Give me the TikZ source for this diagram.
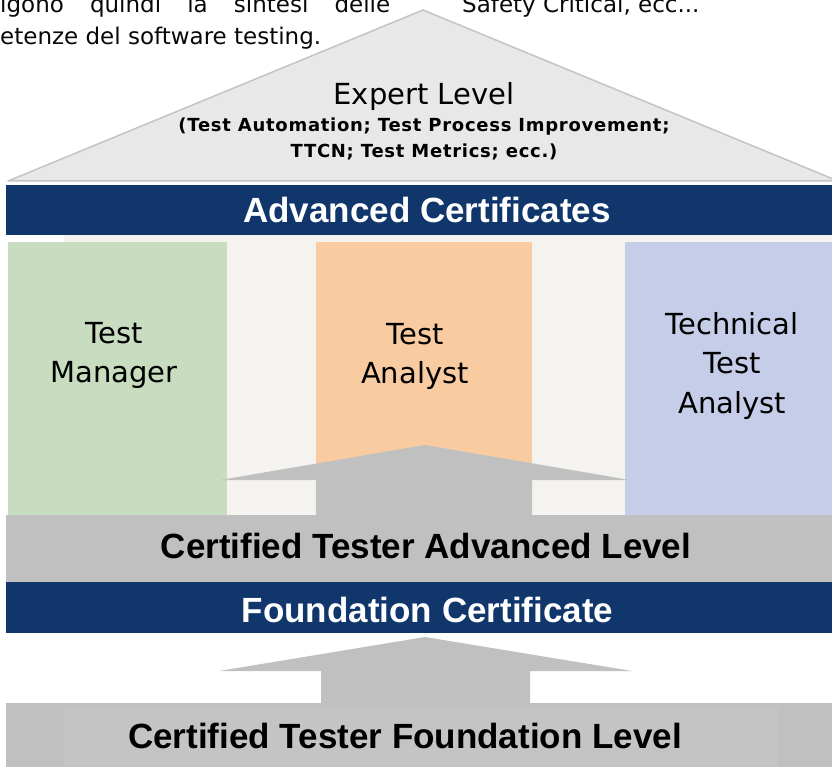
\documentclass[tikz,border=0pt]{standalone}
\usepackage{fontspec}
\setmainfont{DejaVu Sans}
\newfontfamily\bandfont{Liberation Sans}
\newfontfamily\subfont[LetterSpace=4]{DejaVu Sans}
\usetikzlibrary{positioning}

\definecolor{navy}{RGB}{16,54,108}
\definecolor{roofgray}{RGB}{232,232,232}
\definecolor{roofline}{RGB}{196,196,196}
\definecolor{beige}{RGB}{244,243,239}
\definecolor{mgrgreen}{RGB}{200,220,191}
\definecolor{taorange}{RGB}{248,204,160}
\definecolor{ttablue}{RGB}{198,205,233}
\definecolor{levelgray}{RGB}{192,192,192}
\definecolor{innergray}{RGB}{196,196,196}
\definecolor{pageink}{RGB}{8,8,8}

\tikzset{
  band/.style={rectangle, inner sep=0pt, minimum width=840pt},
  column/.style={rectangle, inner sep=0pt, minimum height=273pt},
  bandlabel/.style={anchor=base, inner sep=0pt, font=\bandfont\bfseries\fontsize{35}{35}\selectfont},
  collabel/.style={anchor=north, inner sep=0pt, align=center, font=\fontsize{29}{39.5}\selectfont},
  pagetext/.style={anchor=base west, inner sep=0pt, text=pageink, font=\fontsize{23}{27}\selectfont},
  uparrow/.style={fill=levelgray}
}

\begin{document}
\begin{tikzpicture}[x=1pt, y=-1pt]
\useasboundingbox (0,0) rectangle (832,767);
\clip (0,0) rectangle (832,767);

% page text cut off above the picture
\node [pagetext] (textA) at (0,13) {\makebox[390pt][s]{igono quindi la sintesi delle}};
\node [pagetext] (textB) at (0,45) {etenze del software testing.};
\node [pagetext] (textC) at (462,13) {Safety Critical, ecc...};

% roof
\filldraw [fill=roofgray, draw=roofline, line width=1.5pt, line join=round] (8,181) -- (423,10) -- (838,181) -- cycle;
\node [anchor=base, inner sep=0pt, font=\fontsize{29}{29}\selectfont] (expert) at (424,105) {Expert Level};
\node [anchor=north, inner sep=0pt, align=center, font=\subfont\bfseries\fontsize{18}{26}\selectfont] (expertsub) at (424,118) {(Test Automation; Test Process Improvement;\\TTCN; Test Metrics; ecc.)};

% advanced certificates
\node [band, fill=navy, minimum height=50pt] (advcert) at (426,210) {};
\node [bandlabel, text=white] (advcerttext) at (427,223) {Advanced Certificates};
\node [rectangle, inner sep=0pt, fill=beige, minimum width=782pt, minimum height=280pt] (modules) at (455,375) {};
\node [column, fill=mgrgreen, minimum width=219pt] (manager) at (117.5,378.5) {};
\node [column, fill=taorange, minimum width=216pt] (analyst) at (424,378.5) {};
\node [column, fill=ttablue, minimum width=221pt] (techanalyst) at (735.5,378.5) {};
\node [collabel] (managertext) at (114,322) {Test\\Manager};
\node [collabel] (analysttext) at (415,323) {Test\\Analyst};
\node [collabel] (techanalysttext) at (732,312) {Technical\\Test\\Analyst};

% arrow into the advanced modules
\coordinate (tipA) at (425,445);
\fill [uparrow] (analyst.south west) -- (316,480) -- (220,480) -- (tipA) -- (630,480) -- (532,480) -- (analyst.south east) -- cycle;

% advanced level and foundation certificate
\node [band, fill=levelgray, minimum height=67pt] (advlevel) at (426,548.5) {};
\node [bandlabel] (advleveltext) at (426,558) {Certified Tester Advanced Level};
\node [band, fill=navy, minimum height=51pt] (fndcert) at (426,607.5) {};
\node [bandlabel, text=white] (fndcerttext) at (427.5,622) {Foundation Certificate};

% arrow from the foundation level
\coordinate (tipB) at (425,637);
\fill [uparrow] (321,703) -- (321,671) -- (219,671) -- (tipB) -- (632,671) -- (530,671) -- (530,703) -- cycle;

% foundation level
\node [band, fill=levelgray, minimum height=67pt] (fndlevel) at (426,736.5) {};
\node [rectangle, inner sep=0pt, fill=innergray, minimum width=714pt, minimum height=57pt] (fndinner) at (421,736.5) {};
\node [bandlabel] (fndleveltext) at (405,748) {Certified Tester Foundation Level};
\end{tikzpicture}
\end{document}
